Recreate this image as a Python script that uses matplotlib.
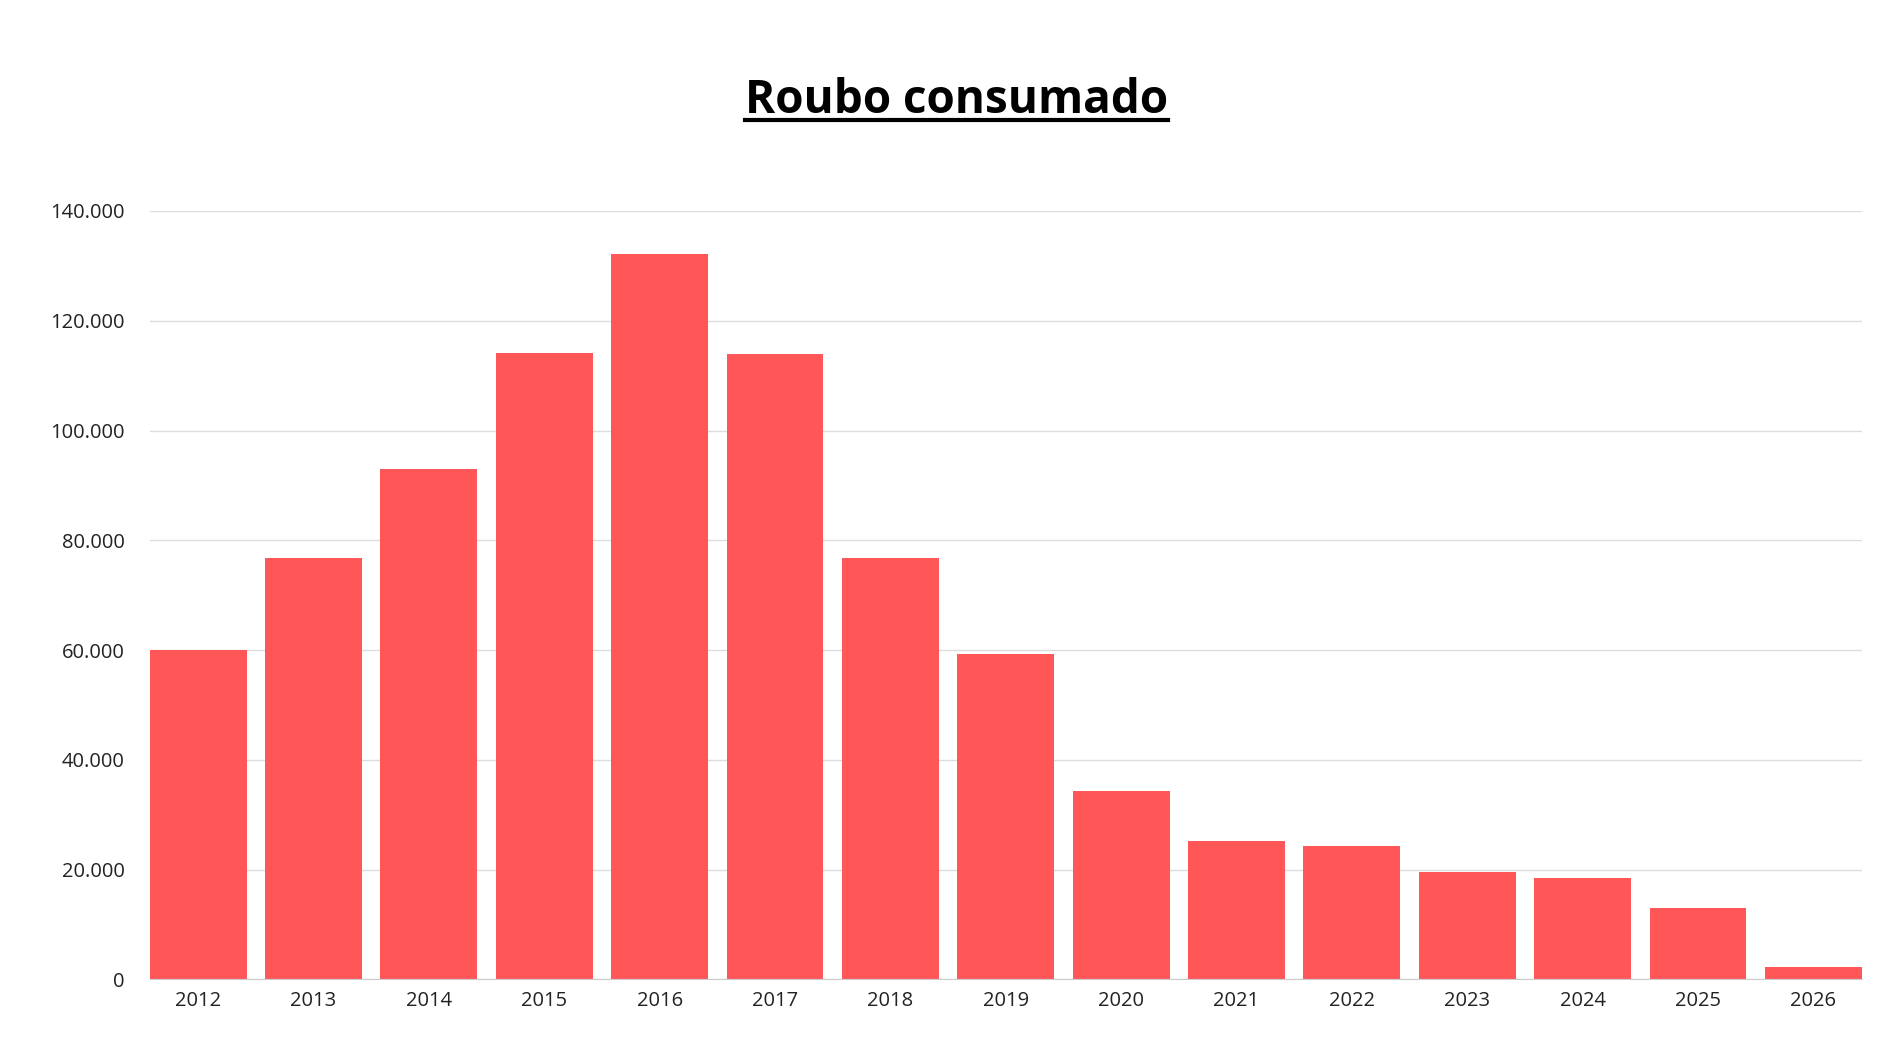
import matplotlib.pyplot as plt
from matplotlib.lines import Line2D
from matplotlib.ticker import FuncFormatter

years = [str(y) for y in range(2012, 2027)]
values = [60000, 76700, 93000, 114200, 132200, 113900, 76700, 59300,
          34300, 25300, 24400, 19600, 18500, 13000, 2300]

plt.rcParams['font.family'] = ['Open Sans', 'DejaVu Sans']

fig = plt.figure(figsize=(18.94, 10.60), dpi=100)
ax = fig.add_axes([0.079, 0.076, 0.904, 0.725])

x = range(len(years))
ax.bar(x, values, width=0.84, color='#FF5757', zorder=2)
ax.set_xlim(-0.42, len(years) - 0.58)
ax.set_ylim(0, 140000)
ax.set_yticks(range(0, 140001, 20000))
ax.yaxis.set_major_formatter(FuncFormatter(lambda v, p: f"{int(v):,}".replace(",", ".")))
ax.set_xticks(list(x))
ax.set_xticklabels(years)
ax.tick_params(axis='both', length=0, labelsize=14.5, colors='#222222')
ax.tick_params(axis='y', pad=18)
ax.tick_params(axis='x', pad=8)
ax.grid(axis='y', color='#dddddd', linewidth=1, zorder=0)
for s in ['top', 'right', 'left']:
    ax.spines[s].set_visible(False)
ax.spines['bottom'].set_color('#cccccc')

title = fig.text(0.505, 0.905, 'Roubo consumado', ha='center', va='center',
                 fontsize=33, fontweight='bold', color='black')
fig.canvas.draw()
bb = title.get_window_extent().transformed(fig.transFigure.inverted())
fig.add_artist(Line2D([bb.x0, bb.x1], [bb.y0 + 0.004, bb.y0 + 0.004],
                      transform=fig.transFigure, color='black', linewidth=3))

fig.savefig('out.png', dpi=100)
